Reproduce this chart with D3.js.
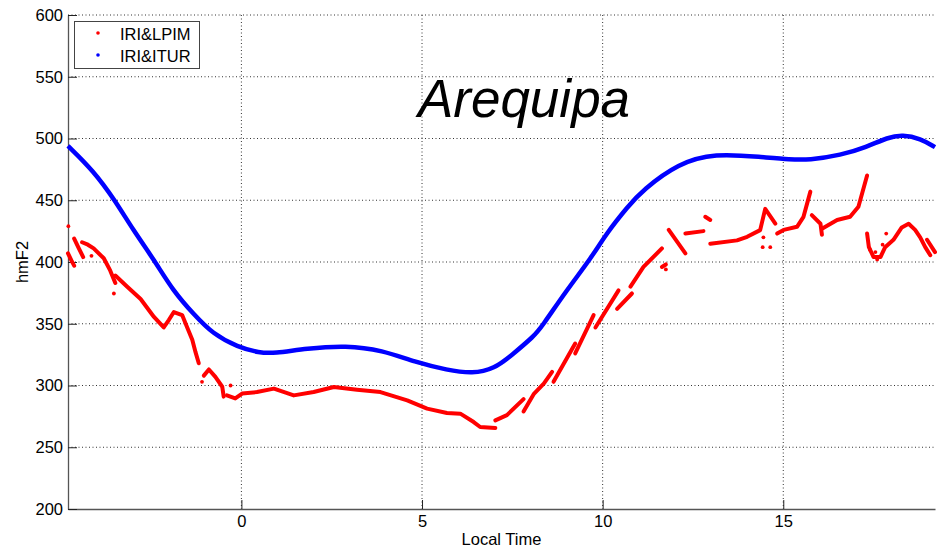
<!DOCTYPE html>
<html>
<head>
<meta charset="utf-8">
<script src="https://cdn.jsdelivr.net/npm/d3@7"></script>
<style>
  body { margin: 0; background: #fff; }
  text { font-family: "Liberation Sans", Arial, sans-serif; }
</style>
</head>
<body>
<div class="canvas"></div>
<script>
// tick values
var xTicks = [0, 5, 10, 15];
var yTicks = [200, 250, 300, 350, 400, 450, 500, 550, 600];

// IRI&ITUR (blue, smooth)
var iturTime = [-4.8, -4.1, -3.5, -3.0, -2.4, -1.9, -1.3, -0.8, -0.1, 0.5, 0.9, 1.8, 2.9, 3.9, 4.8, 5.7, 6.4, 7.0, 7.5, 8.1, 8.3, 9.0, 9.7, 10.1, 10.7, 11.1, 12.1, 13.1, 14.4, 15.2, 15.7, 16.6, 17.3, 17.9, 18.3, 18.8, 19.2];
var iturHmF2 = [494, 474, 450, 426, 401, 377, 357, 342, 331, 326.5, 326, 330, 332.5, 328.5, 319, 312.5, 309.5, 313.5, 325, 340, 347, 377, 404, 423, 445, 458, 480, 488, 485, 483, 482.5, 486.5, 493, 501, 503, 500, 493];

// IRI&LPIM (red, broken pieces of dense dots)
var lpimPieces = [
  [[-4.8, 407], [-4.7, 401], [-4.63, 397]],
  [[-4.63, 419], [-4.5, 411], [-4.38, 404]],
  [[-4.41, 416], [-4.25, 414], [-4.09, 411], [-3.81, 403], [-3.63, 393], [-3.49, 383]],
  [[-3.49, 389], [-3.16, 380], [-2.79, 370], [-2.42, 355.5], [-2.15, 347], [-2.01, 353], [-1.87, 359.5], [-1.64, 357], [-1.5, 347], [-1.36, 337], [-1.27, 327], [-1.18, 318]],
  [[-1.04, 308], [-0.9, 313], [-0.72, 307], [-0.53, 299], [-0.49, 291]],
  [[-0.4, 292], [-0.17, 289.5], [0.02, 293.5], [0.43, 294.7], [0.9, 297.5], [1.45, 292], [2.0, 294.7], [2.56, 298.8], [3.2, 296.6], [3.85, 294.7], [4.59, 288], [5.14, 281.3], [5.69, 277.7], [6.06, 277.2], [6.43, 270.4], [6.61, 266.4], [7.03, 265.6]],
  [[7.03, 271.8], [7.35, 276], [7.81, 289]],
  [[7.81, 279], [8.09, 293], [8.37, 301.5], [8.6, 311]],
  [[8.64, 303], [9.24, 334]],
  [[9.24, 326], [9.75, 357]],
  [[9.8, 347], [10.44, 377]],
  [[10.4, 362], [10.81, 374.5]],
  [[10.77, 380], [11.13, 396], [11.64, 411]],
  [[11.64, 396], [11.75, 398]],
  [[11.83, 426], [12.29, 407]],
  [[12.29, 423], [12.79, 425]],
  [[12.84, 436.6], [12.98, 434]],
  [[12.98, 414.7], [13.72, 417.5], [14.0, 420.4], [14.36, 425.8], [14.5, 443], [14.78, 431]],
  [[14.83, 423], [15.01, 426], [15.38, 428.5], [15.56, 436.6], [15.75, 457]],
  [[15.79, 438], [16.03, 431], [16.07, 422]],
  [[16.07, 427], [16.49, 434], [16.85, 436.6], [17.08, 444.7], [17.32, 470]],
  [[17.32, 423], [17.37, 412], [17.5, 404], [17.69, 404], [17.82, 412], [18.05, 418], [18.28, 428], [18.47, 431], [18.65, 426], [18.79, 420], [18.93, 412], [19.07, 405.5]],
  [[18.98, 418], [19.2, 408]]
];
var lpimStray = [[-4.79, 429], [-4.15, 405], [-3.53, 374.5], [-1.09, 303], [-0.3, 300], [11.75, 394], [14.64, 412], [14.45, 420], [14.43, 412], [17.4, 410], [17.6, 402], [17.55, 408], [17.75, 414], [17.85, 423]];

var W = 937, H = 553;
var plotLeft = 68, plotRight = 935, plotTop = 15, plotBottom = 509;

var svg = d3.select(".canvas")
    .append("svg")
    .attr("width", W)
    .attr("height", H);

var x = d3.scaleLinear().domain([-4.8, 19.2]).range([plotLeft, plotRight]);
var y = d3.scaleLinear().domain([200, 600]).range([plotBottom, plotTop]);

// grid
svg.append("g")
    .selectAll("line")
    .data(yTicks.slice(1))
    .enter()
    .append("line")
        .attr("x1", plotLeft).attr("x2", plotRight)
        .attr("y1", d => y(d)).attr("y2", d => y(d))
        .attr("stroke", "#333")
        .attr("stroke-dasharray", "1,2.5");
svg.append("g")
    .selectAll("line")
    .data(xTicks)
    .enter()
    .append("line")
        .attr("x1", d => x(d)).attr("x2", d => x(d))
        .attr("y1", plotTop).attr("y2", plotBottom)
        .attr("stroke", "#333")
        .attr("stroke-dasharray", "1,2.5");

// axes, ticks pointing inward like matlab
var xAxis = svg.append("g")
    .attr("transform", "translate(0," + plotBottom + ")")
    .call(d3.axisBottom(x).tickValues(xTicks).tickSizeInner(-9).tickSizeOuter(0).tickPadding(6));
var yAxis = svg.append("g")
    .attr("transform", "translate(" + plotLeft + ",0)")
    .call(d3.axisLeft(y).tickValues(yTicks).tickSizeInner(-9).tickSizeOuter(0).tickPadding(5));

[xAxis, yAxis].forEach(function (a) {
    a.select(".domain").attr("stroke", "#555").attr("stroke-width", 1.3);
    a.selectAll(".tick line").attr("stroke", "#222");
    a.selectAll("text")
        .style("font-family", "'Liberation Sans', Arial, sans-serif")
        .style("font-size", "16.5px")
        .attr("fill", "#000");
});

// axis labels
svg.append("text")
    .attr("x", (plotLeft + plotRight) / 2)
    .attr("y", 545)
    .attr("text-anchor", "middle")
    .style("font-size", "16.5px")
    .text("Local Time");
svg.append("text")
    .attr("transform", "translate(28," + ((plotTop + plotBottom) / 2) + ")rotate(-90)")
    .attr("text-anchor", "middle")
    .style("font-size", "16.5px")
    .text("hmF2");

// IRI&ITUR curve
var line = d3.line()
    .x((d, i) => x(iturTime[i]))
    .y(d => y(d))
    .curve(d3.curveBasis);
svg.append("path")
    .datum(iturHmF2)
    .attr("d", line)
    .attr("fill", "none")
    .attr("stroke", "#0000ff")
    .attr("stroke-width", 4.5);

// IRI&LPIM pieces
var pieceLine = d3.line()
    .x(d => x(d[0]))
    .y(d => y(d[1]));
svg.selectAll("path.lpim")
    .data(lpimPieces)
    .enter()
    .append("path")
        .attr("class", "lpim")
        .attr("d", pieceLine)
        .attr("fill", "none")
        .attr("stroke", "#ff0000")
        .attr("stroke-width", 4)
        .attr("stroke-linejoin", "round")
        .attr("stroke-linecap", "round");
svg.selectAll("circle.lpim")
    .data(lpimStray)
    .enter()
    .append("circle")
        .attr("class", "lpim")
        .attr("cx", d => x(d[0]))
        .attr("cy", d => y(d[1]))
        .attr("r", 1.9)
        .attr("fill", "#ff0000");

// title
svg.append("text")
    .attr("x", 524)
    .attr("y", 117)
    .attr("text-anchor", "middle")
    .style("font-size", "53px")
    .style("font-style", "italic")
    .text("Arequipa");

// legend
var legend = svg.append("g");
legend.append("rect")
    .attr("x", 74.5).attr("y", 21.5)
    .attr("width", 125).attr("height", 47)
    .attr("fill", "#fff")
    .attr("stroke", "#444");
var entries = [["IRI&LPIM", "#ff0000", 33], ["IRI&ITUR", "#0000ff", 55]];
entries.forEach(function (e) {
    legend.append("circle")
        .attr("cx", 98).attr("cy", e[2])
        .attr("r", 1.8)
        .attr("fill", e[1]);
    legend.append("text")
        .attr("x", 120).attr("y", e[2] + 6.5)
        .style("font-size", "16.5px")
        .text(e[0]);
});
</script>
</body>
</html>
